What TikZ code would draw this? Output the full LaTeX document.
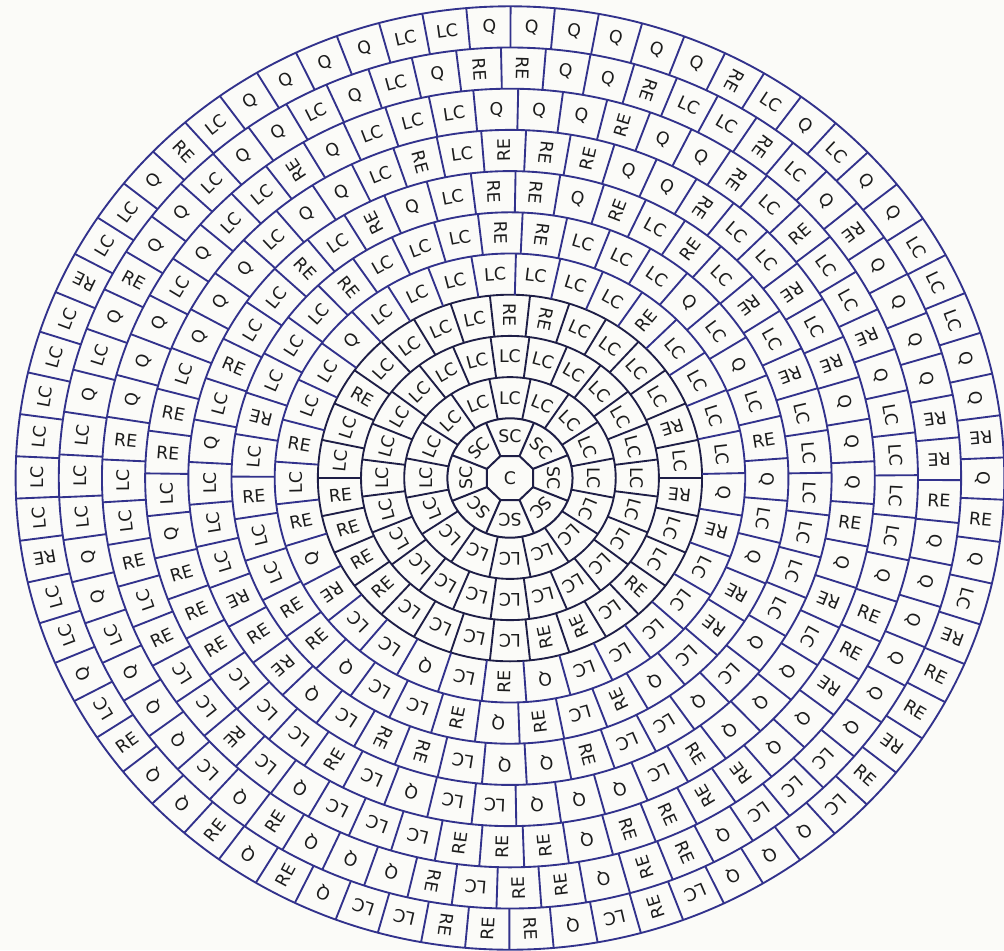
\documentclass[tikz,border=0pt]{standalone}
\usepackage{fontspec}
\setmainfont{DejaVu Sans}
\definecolor{ringline}{RGB}{50,50,140}
\definecolor{inkline}{RGB}{30,30,70}
\definecolor{paper}{RGB}{251,251,248}
\definecolor{labeltext}{RGB}{28,28,28}
\tikzset{
  ringedge/.style={draw=ringline, line width=1.4pt},
  coreedge/.style={draw=inkline, line width=1.5pt},
  celltag/.style={font=\fontsize{13}{13}\selectfont, text=labeltext, inner sep=0pt},
}
\begin{document}
\begin{tikzpicture}[x=0.786pt, y=0.75pt]
  \fill[paper] (-486.6,-472) rectangle (471.4,478);
  \useasboundingbox (-486.6,-472) rectangle (471.4,478);

  % centre octagon and the SC ring
  \draw[coreedge] (22.5:23.8) \foreach \a in {67.5,112.5,...,337.5} { -- (\a:23.8) } -- cycle;
  \node[celltag] (core) at (0,0) {C};
  \draw[coreedge] (0,0) circle[radius=59.7];
  \foreach \j in {0,...,7} {
    \draw[coreedge] (22.5+45*\j:23.8) -- (22.5+45*\j:59.7);
    \node[celltag, rotate=45*\j] (sc-\j) at (90+45*\j:42) {SC};
  }

  % outer rings of tiles
  \foreach \k/\cells/\twist in {2/16/0, 3/24/0, 4/30/0, 5/33/4, 6/39/2, 7/45/3, 8/51/1, 9/57/2, 10/63/4, 11/70/2.5} {
    \pgfmathsetmacro\rout{18.5+41.2*\k}
    \pgfmathsetmacro\rin{\rout-41.2}
    \pgfmathsetmacro\rmid{\rout-20.6}
    \pgfmathsetmacro\arcstep{360/\cells}
    \pgfmathtruncatemacro\qmax{min(\k-4,4)}
    \ifnum\k<5 \tikzset{ringedge/.append style={draw=inkline}}\fi
    \draw[ringedge] (0,0) circle[radius=\rout];
    \foreach \j in {1,...,\cells} {
      \pgfmathsetmacro\ang{90+\twist-\arcstep*(\j-1)}
      \draw[ringedge] (\ang+\arcstep/2:\rin) -- (\ang+\arcstep/2:\rout);
      \pgfmathtruncatemacro\hash{mod(int(abs(sin(\j*47.3+\k*113.7))*997),10)}
      \ifnum\k<4 \def\lbl{LC}\else
        \ifnum\hash<\qmax \def\lbl{Q}\else
          \ifnum\hash<\numexpr\qmax+3\relax \def\lbl{RE}\else \def\lbl{LC}\fi
        \fi
      \fi
      \pgfmathsetmacro\tilt{\ang-90}
      \ifnum\pdfstrcmp{\lbl}{RE}=0
        \pgfmathsetmacro\tilt{ifthenelse(mod(\hash,2)==0,\ang-180,\ang)}
      \fi
      \node[celltag, rotate=\tilt] (cell-\k-\j) at (\ang:\rmid) {\lbl};
    }
  }
\end{tikzpicture}
\end{document}
